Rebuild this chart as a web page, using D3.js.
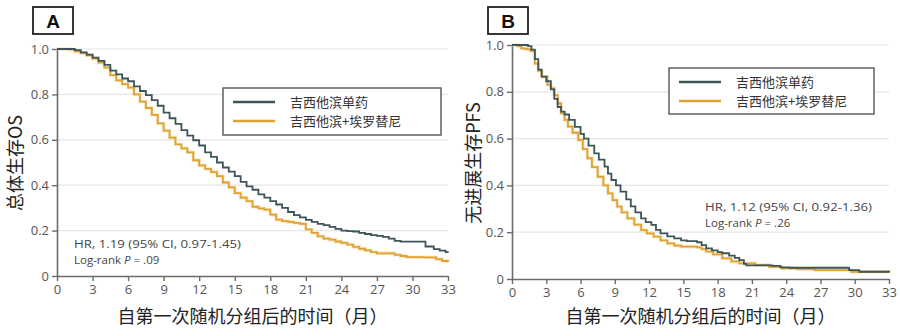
<!DOCTYPE html>
<html><head><meta charset="utf-8">
<script src="https://cdn.jsdelivr.net/npm/d3@7"></script>
<style>
body{margin:0;background:#fff;}
svg{display:block;}
text{font-family:"Open Sans","Noto Sans","Noto Sans CJK SC",sans-serif;}
.cjk{font-family:"Noto Sans CJK SC","Noto Sans",sans-serif;}
</style></head>
<body><svg id="chart" width="900" height="336"></svg>
<script>
// ---------- data ----------
const xTicks = [0,3,6,9,12,15,18,21,24,27,30,33];
const yTicks = [0,0.2,0.4,0.6,0.8,1.0];
const seriesNames = ["吉西他滨单药","吉西他滨+埃罗替尼"];
const xLabel = "自第一次随机分组后的时间（月）";

// Panel A: overall survival
const osMonoT = [0,0.5,1,1.5,2,2.5,3,3.5,4,4.5,5,5.5,6,6.5,7,7.5,8,8.5,9,9.5,10,10.5,11,11.5,12,12.5,13,13.5,14,14.5,15,15.5,16,16.5,17,17.5,18,18.5,19,19.5,20,20.5,21,21.5,22,22.5,23,23.5,24,24.5,25,25.5,26,26.5,27,27.5,28,28.5,29,31.1,31.8,32.3,32.8,33];
const osMonoS = [1.0,1.0,1.0,0.995,0.985,0.975,0.962,0.948,0.93,0.905,0.888,0.87,0.858,0.835,0.815,0.797,0.775,0.75,0.72,0.695,0.67,0.643,0.618,0.598,0.575,0.545,0.525,0.5,0.478,0.46,0.44,0.415,0.395,0.38,0.36,0.345,0.33,0.315,0.3,0.282,0.268,0.258,0.247,0.238,0.23,0.224,0.216,0.208,0.2,0.198,0.196,0.19,0.185,0.18,0.177,0.172,0.165,0.155,0.151,0.13,0.118,0.112,0.105,0.103];
const osComboT = [0,0.5,1,1.5,2,2.5,3,3.5,4,4.5,5,5.5,6,6.5,7,7.5,8,8.5,9,9.5,10,10.5,11,11.5,12,12.5,13,13.5,14,14.5,15,15.5,16,16.5,17,17.5,18,18.5,19,19.5,20,20.5,21,21.5,22,22.5,23,23.5,24,24.5,25,25.5,26,26.5,27,28,28.5,29,29.5,31,32,32.5,33];
const osComboS = [1.0,1.0,0.998,0.99,0.982,0.972,0.958,0.94,0.918,0.885,0.862,0.845,0.83,0.8,0.768,0.74,0.71,0.672,0.64,0.61,0.58,0.562,0.545,0.51,0.487,0.472,0.458,0.44,0.412,0.39,0.365,0.345,0.33,0.305,0.298,0.292,0.27,0.248,0.242,0.238,0.234,0.23,0.205,0.19,0.175,0.165,0.16,0.152,0.146,0.138,0.128,0.12,0.113,0.105,0.1,0.1,0.093,0.088,0.083,0.082,0.074,0.066,0.063];

// Panel B: progression-free survival
const pfsMonoT = [0,0.5,1,1.4,1.7,2,2.3,2.6,3,3.4,3.7,4,4.3,4.6,5,5.5,6,6.3,6.7,7.2,7.6,8.1,8.4,8.7,9.1,9.5,10,10.4,10.8,11.3,11.7,12.2,12.6,13,13.6,14.2,14.8,15.3,16.2,16.6,17,17.5,18,18.4,19,19.5,19.9,20.3,20.5,22.8,23.5,24.3,29.5,30.4,33];
const pfsMonoS = [1,1,1,0.995,0.98,0.94,0.895,0.865,0.845,0.81,0.77,0.735,0.715,0.703,0.68,0.65,0.62,0.6,0.57,0.537,0.51,0.48,0.45,0.423,0.4,0.373,0.34,0.31,0.285,0.259,0.243,0.231,0.21,0.195,0.182,0.174,0.165,0.162,0.157,0.145,0.131,0.122,0.115,0.11,0.1,0.09,0.081,0.065,0.058,0.056,0.05,0.048,0.038,0.031,0.028];
const pfsComboT = [0,0.5,0.8,1.2,1.6,2,2.3,2.6,3.1,3.4,3.7,4,4.3,4.6,4.9,5.3,5.8,6.2,6.6,7,7.5,8,8.4,8.8,9.2,9.6,10.1,10.7,11.3,11.8,12.4,13,13.6,14.2,14.8,16.2,16.6,17,17.6,18.4,19.2,19.9,21.3,22.5,23.6,25,26.5,29.7,33];
const pfsComboS = [1,0.995,0.986,0.982,0.975,0.92,0.89,0.865,0.83,0.815,0.786,0.75,0.708,0.68,0.651,0.625,0.594,0.555,0.516,0.478,0.437,0.4,0.366,0.337,0.309,0.285,0.259,0.232,0.209,0.195,0.181,0.165,0.152,0.143,0.138,0.135,0.128,0.117,0.105,0.088,0.075,0.067,0.06,0.052,0.046,0.042,0.038,0.031,0.028];

const colors = ["#3d5559","#e0a232"];

const panels = [
  {letter:"A", yLabel:"总体生存OS", mono:[osMonoT,osMonoS], combo:[osComboT,osComboS],
   x0:57, x1:448, y0:276, y1:49, box:[33,7], ylx:14, yly:163,
   legend:{x:223,y:88,w:218,h:47}, ann:{x:74,y:248,w:167,lines:["HR, 1.19 (95% CI, 0.97-1.45)",".09"]}},
  {letter:"B", yLabel:"无进展生存PFS", mono:[pfsMonoT,pfsMonoS], combo:[pfsComboT,pfsComboS],
   x0:512, x1:889, y0:279, y1:45, box:[488,7], ylx:472, yly:163,
   legend:{x:669,y:68,w:205,h:46}, ann:{x:705,y:211,w:167,lines:["HR, 1.12 (95% CI, 0.92-1.36)",".26"]}}
];

const svg = d3.select("#chart");

panels.forEach(p => {
  const g = svg.append("g");
  const x = d3.scaleLinear().domain([0,33]).range([p.x0,p.x1]);
  const y = d3.scaleLinear().domain([0,1]).range([p.y0,p.y1]);

  // gridlines
  g.selectAll(".grid").data(yTicks.filter(d=>d>0)).join("line")
    .attr("x1",p.x0).attr("x2",p.x1)
    .attr("y1",d=>y(d)).attr("y2",d=>y(d))
    .attr("stroke","#e6e6e6").attr("stroke-width",1.2);

  // axes
  const xa = g.append("g").attr("transform",`translate(0,${p.y0})`)
    .call(d3.axisBottom(x).tickValues(xTicks).tickSize(5).tickPadding(4).tickSizeOuter(0));
  const ya = g.append("g").attr("transform",`translate(${p.x0},0)`)
    .call(d3.axisLeft(y).tickValues(yTicks).tickSize(5).tickPadding(3).tickSizeOuter(0)
      .tickFormat(d=> d===0 ? "0" : d.toFixed(1)));
  [xa,ya].forEach(a=>{
    a.select(".domain").attr("stroke","#6b6b6b").attr("stroke-width",1.6);
    a.selectAll(".tick line").attr("stroke","#6b6b6b").attr("stroke-width",1.4);
    a.selectAll(".tick text").attr("fill","#555").style("font-size","13px")
      .style("font-family","'Open Sans','Noto Sans',sans-serif");
  });

  // curves
  const line = d3.line().curve(d3.curveStepAfter).x(d=>x(d[0])).y(d=>y(d[1]));
  [p.combo, p.mono].forEach((s,i)=>{
    const data = s[0].map((t,k)=>[t,s[1][k]]);
    const col = i===0 ? colors[1] : colors[0];
    if(i===0){
      g.append("path").datum(data).attr("d",line).attr("fill","none")
        .attr("stroke","#f3dca8").attr("stroke-width",3.4).attr("stroke-opacity",0.7);
    }
    g.append("path").datum(data).attr("d",line).attr("fill","none")
      .attr("stroke",col).attr("stroke-width",1.8);
  });

  // panel letter box
  g.append("rect").attr("x",p.box[0]).attr("y",p.box[1]).attr("width",40).attr("height",27)
    .attr("fill","#fff").attr("stroke","#222").attr("stroke-width",1.8);
  g.append("text").attr("x",p.box[0]+20).attr("y",p.box[1]+21).attr("text-anchor","middle")
    .attr("fill","#111").style("font-size","19px").style("font-weight","bold")
    .style("font-family","'Liberation Sans','Noto Sans',sans-serif").text(p.letter);

  // y label
  g.append("text").attr("class","cjk")
    .attr("transform",`translate(${p.ylx},${p.yly}) rotate(-90)`)
    .attr("text-anchor","middle").attr("dominant-baseline","central")
    .attr("fill","#222").style("font-size","18px").text(p.yLabel);

  // x label
  g.append("text").attr("class","cjk")
    .attr("x",(p.x0+p.x1)/2).attr("y",323).attr("text-anchor","middle")
    .attr("fill","#222").style("font-size","18px").text(xLabel);

  // legend
  const L = p.legend;
  g.append("rect").attr("x",L.x).attr("y",L.y).attr("width",L.w).attr("height",L.h)
    .attr("fill","#fff").attr("stroke","#555").attr("stroke-width",1.4);
  seriesNames.forEach((n,i)=>{
    const ly = L.y + 14 + i*19;
    g.append("line").attr("x1",L.x+10).attr("x2",L.x+52).attr("y1",ly).attr("y2",ly)
      .attr("stroke",colors[i]).attr("stroke-width",2.4);
    g.append("text").attr("class","cjk").attr("x",L.x+67).attr("y",ly+5)
      .attr("fill","#333").style("font-size","13px").text(n);
  });

  // annotation
  const A = p.ann;
  g.append("text").attr("x",A.x).attr("y",A.y).attr("fill","#444")
    .style("font-size","11.5px").attr("textLength",A.w).attr("lengthAdjust","spacingAndGlyphs")
    .text(A.lines[0]);
  const t2 = g.append("text").attr("x",A.x).attr("y",A.y+16).attr("fill","#444").style("font-size","11.5px");
  t2.append("tspan").text("Log-rank ");
  t2.append("tspan").style("font-style","italic").text("P");
  t2.append("tspan").text(" = " + A.lines[1]);
});
</script>
</body></html>
